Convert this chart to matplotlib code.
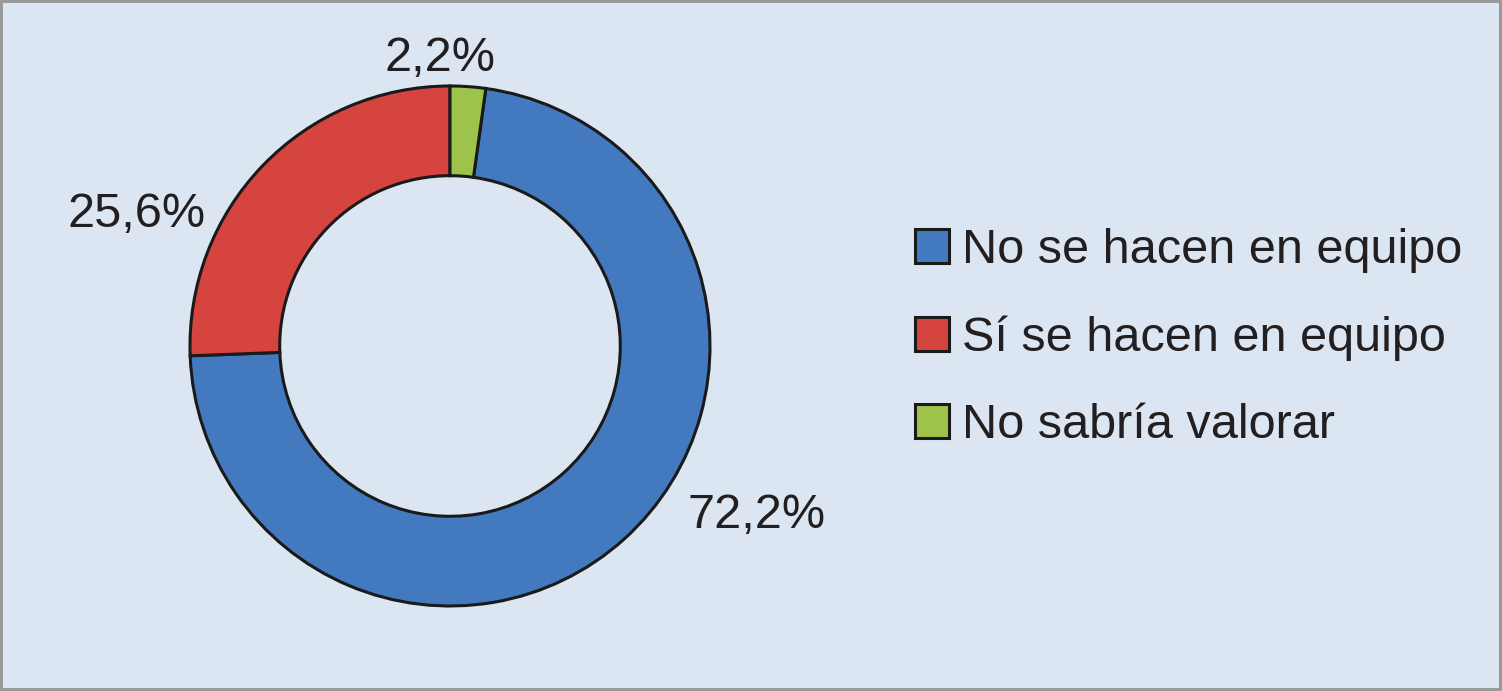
import matplotlib.pyplot as plt

categories = ["No se hacen en equipo", "Sí se hacen en equipo", "No sabría valorar"]
values = [72.2, 25.6, 2.2]
value_labels = ["72,2%", "25,6%", "2,2%"]
colors = ["#4279bf", "#d6443f", "#9dc34a"]

plt.rcParams["font.family"] = ["Liberation Sans", "DejaVu Sans"]

fig = plt.figure(figsize=(15.02, 6.91), dpi=100)
fig.patch.set_facecolor("#dce6f2")
fig.patch.set_edgecolor("#999999")
fig.patch.set_linewidth(4)

W, H = 1502, 691
cx, cy, r = 450, 346, 260
ax = fig.add_axes([(cx - r) / W, (H - cy - r) / H, 2 * r / W, 2 * r / H])
ax.set_facecolor("none")

# green sits just right of 12 o'clock, blue goes clockwise from it
start = 90 - values[2] * 3.6
wedges, _ = ax.pie(values, colors=colors, startangle=start, counterclock=False,
                   radius=1, wedgeprops=dict(width=0.345, edgecolor="#1a1a1a", linewidth=2.2))
ax.set_xlim(-1, 1)
ax.set_ylim(-1, 1)
ax.set_aspect("equal")
ax.axis("off")

# label positions (axes data units), like the Excel outside-end labels
label_pos = [(1.18, -0.65), (-1.205, 0.505), (-0.038, 1.105)]
for txt, (x, y) in zip(value_labels, label_pos):
    ax.text(x, y, txt, ha="center", va="center", fontsize=35, color="#231f20", clip_on=False)

leg = fig.legend(wedges, categories, loc="center left", bbox_to_anchor=(891 / W, (H - 338) / H),
                 frameon=False, fontsize=35, handlelength=0.7, handleheight=0.7,
                 handletextpad=0.27, labelspacing=0.86, borderpad=0)
for t in leg.get_texts():
    t.set_color("#231f20")

fig.savefig("out.png", dpi=100, facecolor=fig.get_facecolor(), edgecolor=fig.get_edgecolor())
